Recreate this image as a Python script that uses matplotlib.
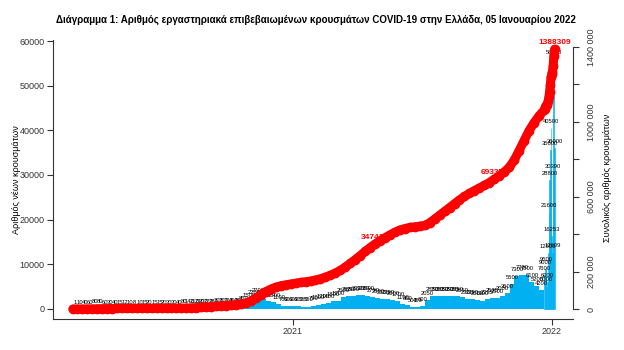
import numpy as np
import matplotlib
matplotlib.use("Agg")
import matplotlib.pyplot as plt
import matplotlib.dates as mdates

# average daily cases per week, weeks starting 2020-02-26
week_start = np.datetime64("2020-02-26")
weekly_cases = [
    1, 10, 40, 60, 80, 80, 60, 30, 40, 15,
    12, 10, 8, 10, 15, 20, 15, 15, 20, 30,
    30, 40, 80, 140, 210, 230, 200, 220, 280, 300,
    300, 320, 400, 480, 850, 1500, 2200, 2700, 2300, 1800,
    1500, 1100, 700, 600, 600,
    600, 550, 550, 750, 1000, 1200, 1400, 1800, 1900, 2600,
    2800, 2900, 3030, 3200, 3000, 2700,
    2500, 2300, 2200, 2000, 1700, 1100, 800, 500, 450, 600,
    2050, 2850, 2950, 2850, 2950, 2950, 2850, 2650,
    2300, 2200, 2000, 1900, 2235, 2535,
    2500, 3000, 3500, 5500, 7300, 7700, 7500, 6100, 5200, 4200,
]
# daily cases from 2021-12-22 to 2022-01-05
day_start = np.datetime64("2021-12-22")
daily_cases = [7600, 9000, 9500, 5000, 6000, 12600, 21600, 28800, 35600, 40500,
               16253, 12609, 30390, 56000, 36000]

labelled_points = [61, 85, 110]   # index in cumulative series
year_ticks = ["2021-01-01", "2022-01-01"]
year_labels = ["2021", "2022"]

plt.rcParams["font.family"] = ["Liberation Sans", "DejaVu Sans"]

blue = "#00b0f0"
axc = "#333333"

fig = plt.figure(figsize=(6.24, 3.5), dpi=100)
ax = fig.add_axes([53 / 624, 1 - 319 / 350, 520 / 624, 279 / 350])

n_w = len(weekly_cases)
wdates = week_start + np.arange(n_w) * 7
ddates = day_start + np.arange(len(daily_cases))
wx = mdates.date2num(wdates) + 3
dx = mdates.date2num(ddates)

ax.bar(wx, weekly_cases, width=7, color=blue, linewidth=0, zorder=1)
ax.bar(dx, daily_cases, width=1.0, color=blue, edgecolor=blue, linewidth=0.4,
       zorder=1)

# value labels above each bar (they pile up into a dark band)
for x, v in zip(np.r_[wx, dx], weekly_cases + daily_cases):
    ax.text(x, v + 1500, str(v), fontsize=4.2, color="black", ha="center",
            va="center", zorder=2)

ax.set_ylim(-2239, 60224)
ax.set_yticks(range(0, 60001, 10000))
ax.set_yticklabels([str(v) for v in range(0, 60001, 10000)], fontsize=6.5)
ax.set_xlim(mdates.date2num(np.datetime64("2020-01-29")),
            mdates.date2num(np.datetime64("2022-01-31")))
ax.set_xticks(mdates.date2num(np.array(year_ticks, dtype="datetime64[D]")))
ax.set_xticklabels(year_labels, fontsize=6.5)
for s in ["top", "right"]:
    ax.spines[s].set_visible(False)
for s in ["left", "bottom"]:
    ax.spines[s].set_color(axc)
ax.tick_params(colors=axc, length=4, width=0.8, pad=2)

# cumulative total on the right axis
ax2 = ax.twinx()
cum_x = np.r_[mdates.date2num(week_start), mdates.date2num(wdates) + 6, dx]
cum_y = np.r_[0, np.cumsum(np.r_[np.array(weekly_cases) * 7, daily_cases])]
ax2.plot(cum_x, cum_y, color="red", lw=6.5, marker="o", ms=6,
         solid_capstyle="round", zorder=4)
for i in labelled_points:
    ax2.annotate(str(int(cum_y[i])), (cum_x[i], cum_y[i]), xytext=(0, 2.5),
                 textcoords="offset points", ha="center", va="bottom",
                 fontsize=6, fontweight="bold", color="red", zorder=3)
ax2.set_ylim(-53435, 1437405)
rt = list(range(0, 1400001, 200000))
ax2.set_yticks(rt)
rlab = {0: "0", 200000: "200 000", 600000: "600 000", 1000000: "1000 000",
        1400000: "1400 000"}
ax2.set_yticklabels([rlab.get(v, "") for v in rt], fontsize=6.5, rotation=90,
                    va="center")
for s in ["top", "left", "bottom"]:
    ax2.spines[s].set_visible(False)
ax2.spines["right"].set_bounds(0, 1400000)
ax2.spines["right"].set_color(axc)
ax2.tick_params(colors=axc, length=4, width=0.8, pad=6)
ax2.set_xlim(ax.get_xlim())

fig.text(316 / 624, 1 - 20 / 350,
         "Διάγραμμα 1: Αριθμός εργαστηριακά επιβεβαιωμένων κρουσμάτων COVID-19 στην Ελλάδα, 05 Ιανουαρίου 2022",
         ha="center", va="center", fontsize=7, fontweight="bold")
fig.text(17 / 624, 1 - 180 / 350, "Αριθμός νέων κρουσμάτων", rotation=90,
         ha="center", va="center", fontsize=6.5)
fig.text(608 / 624, 1 - 178 / 350, "Συνολικός αριθμός κρουσμάτων", rotation=90,
         ha="center", va="center", fontsize=6.5)

fig.savefig("out.png", dpi=100)
